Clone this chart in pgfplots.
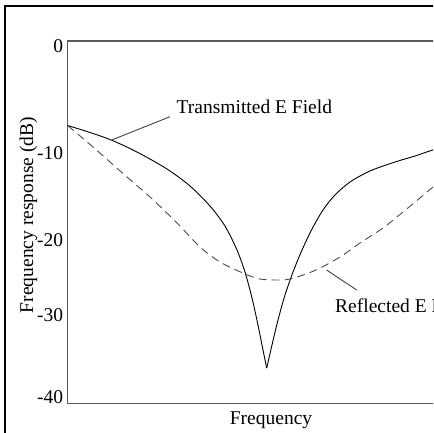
\documentclass[border=0pt]{standalone}
\usepackage{fontspec}
\setmainfont{Liberation Serif}
\usepackage{pgfplots}
\pgfplotsset{compat=1.18}

\pgfplotstableread{
x y
67.7 -9.33
90 -10.10
110 -10.88
130 -11.87
150 -13.03
170 -14.35
190 -16.01
210 -18.22
225 -20.43
237 -23.08
245 -25.51
252 -28.38
258 -31.36
263 -34.12
266.7 -36.11
}\transmittedleft

\pgfplotstableread{
x y
266.7 -36.11
272 -33.56
278 -30.80
285 -28.04
293 -25.51
302 -23.08
312 -20.76
323 -18.66
335 -17.00
350 -15.57
370 -14.35
395 -13.36
415 -12.70
433 -12.03
460 -11.26
487.7 -10.60
}\transmittedright

\pgfplotstableread{
x y
67.7 -9.33
73 -9.83
93 -11.70
127 -15.02
150 -17.22
177 -20.09
200 -22.74
220 -24.40
243 -25.62
260 -26.28
280 -26.39
290 -26.28
303 -25.84
318 -25.18
340 -23.85
360 -22.30
383 -20.65
403 -18.88
420 -17.33
433 -16.12
460 -13.69
487.7 -11.15
}\reflected

\begin{document}
\begin{tikzpicture}[font=\fontsize{19.5}{23}\selectfont]
\path[use as bounding box] (0pt,0pt) rectangle (433pt,433pt);
\clip (0pt,0pt) rectangle (433pt,433pt);
\draw[line width=2pt,black] (5pt,-10pt) -- (5pt,427.3pt) -- (450pt,427.3pt);
\begin{axis}[
  at={(67.7pt,29.7pt)}, anchor=south west,
  scale only axis, width=420pt, height=362.3pt,
  xmin=67.7, xmax=487.7, ymin=-40, ymax=0,
  axis line style={draw=black!65, line width=1.3pt},
  xtick=\empty,
  ytick={-0.55,-12.37,-21.97,-30.25,-39.30},
  yticklabels={0,-10,-20,-30,-40},
  major tick length=0pt,
  yticklabel style={inner sep=0pt, anchor=east, xshift=-4.5pt, font=\fontsize{19.5}{23}\selectfont},
  clip=false,
]
\addplot[black, line width=0.9pt, smooth, tension=0.5] table[x=x,y=y] {\transmittedleft};
\addplot[black, line width=0.9pt, smooth, tension=0.5] table[x=x,y=y] {\transmittedright};
\addplot[black!70, line width=0.9pt, dash pattern=on 8pt off 5pt, smooth, tension=0.5] table[x=x,y=y] {\reflected};
\draw[black!75, line width=0.9pt] (axis cs:111.7,-10.93) -- (axis cs:170,-8.36);
\draw[black!75, line width=0.9pt] (axis cs:326.7,-25.29) -- (axis cs:356.7,-27.49);
\end{axis}
\node[anchor=base west, inner sep=0pt] at (176.5pt,319.5pt) {Transmitted E Field};
\node[anchor=base west, inner sep=0pt] at (335pt,120.5pt) {Reflected E Field};
\node[anchor=base, inner sep=0pt, rotate=90] at (33pt,218pt) {Frequency response (dB)};
\node[anchor=base, inner sep=0pt] at (271pt,9pt) {Frequency};
\end{tikzpicture}
\end{document}
